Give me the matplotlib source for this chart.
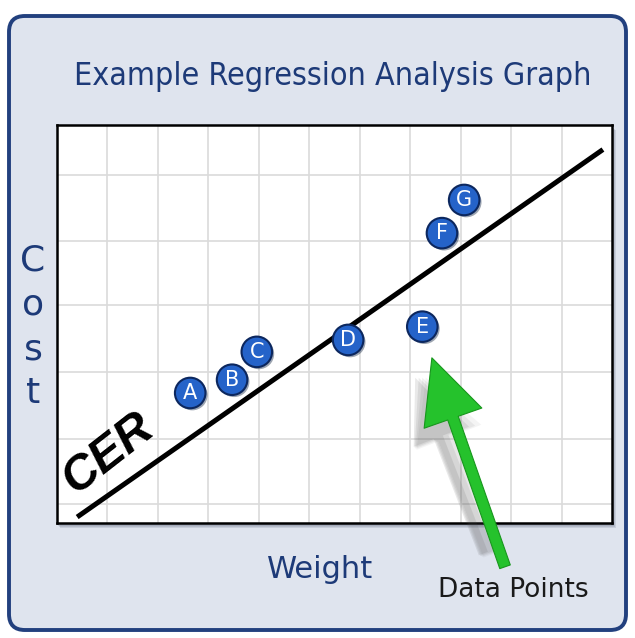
import matplotlib.pyplot as plt
import numpy as np
from matplotlib.patches import FancyBboxPatch, Rectangle
import matplotlib.patheffects as pe


# data points (grid units)
labels = ['A', 'B', 'C', 'D', 'E', 'F', 'G']
weight = [2.64, 3.47, 3.96, 5.77, 7.24, 7.63, 8.07]
cost = [1.96, 2.16, 2.58, 2.76, 2.96, 4.37, 4.87]

# cost estimating relationship line
cer_weight = [0.40, 10.82]
cer_cost = [0.09, 5.63]

grid_x = np.arange(1, 11)
grid_y = [0.28, 1.27, 2.28, 3.29, 4.25, 5.25]

navy = '#1d3a78'

fig = plt.figure(figsize=(6.35, 6.38), dpi=100)
fig.patch.set_facecolor('white')

# outer rounded panel
panel = FancyBboxPatch((9 / 635, 8 / 638), 617 / 635, 614 / 638,
                       boxstyle='round,pad=0,rounding_size=0.025',
                       transform=fig.transFigure, facecolor='#dfe4ee',
                       edgecolor='#22407e', linewidth=2.8, zorder=-5)
fig.patches.append(panel)
# soft shadow under the plot box
for k in range(3):
    fig.patches.append(Rectangle(((58 + k) / 635, (112 - k) / 638), 556 / 635, 398 / 638,
                                 transform=fig.transFigure, facecolor='#606a80',
                                 alpha=0.18, lw=0, zorder=-4))

ax = fig.add_axes([57 / 635, 115 / 638, 555 / 635, 398 / 638], zorder=2)
ax.set_xlim(0, 11)
ax.set_ylim(0, 6)
ax.set_facecolor('white')
ax.set_xticks(grid_x)
ax.set_yticks(grid_y)
ax.tick_params(length=0, labelbottom=False, labelleft=False)
ax.grid(True, color='#dadada', linewidth=1.2)
for s in ax.spines.values():
    s.set_color('black')
    s.set_linewidth(1.8)

ax.plot(cer_weight, cer_cost, color='black', linewidth=3.6,
        solid_capstyle='butt', zorder=3)

ax.scatter(weight, cost, s=22 ** 2, color='#2563c9', edgecolor='#0c275e',
           linewidth=1.5, zorder=4,
           path_effects=[pe.SimplePatchShadow(offset=(1.5, -1.5), alpha=0.4), pe.Normal()])
for lab, x, y in zip(labels, weight, cost):
    ax.text(x, y, lab, color='white', fontsize=15, ha='center', va='center',
            zorder=5)

ax.text(1.02, 1.05, 'CER', fontsize=35, fontweight='bold', style='italic',
        family='Liberation Sans', rotation=38, ha='center', va='center',
        rotation_mode='anchor', zorder=3)

# arrow pointing at point E
ex, ey = weight[4], cost[4]
tip = (ex + 0.19, ey - 0.47)
tail = (ex + 1.64, ey - 3.62)
for k, a in enumerate([0.06, 0.08, 0.10, 0.12]):
    off = 0.12 + 0.07 * k
    ax.annotate('', xy=(tip[0] - off, tip[1] - 0.3), xytext=(tail[0] - off - 0.1, tail[1] + 0.2),
                annotation_clip=False, zorder=6,
                arrowprops=dict(arrowstyle='simple,head_length=46,head_width=%g,tail_width=%g'
                                % (50 - 4 * k, 16 - 3 * k),
                                mutation_scale=1, color='#4a4a4a', alpha=a, lw=0,
                                shrinkA=0, shrinkB=0))
ax.annotate('', xy=tip, xytext=tail, annotation_clip=False, zorder=7,
            arrowprops=dict(arrowstyle='simple,head_length=46,head_width=44,tail_width=8',
                            mutation_scale=1, facecolor='#25c22c', edgecolor='#18961d',
                            lw=0.8, shrinkA=0, shrinkB=0))

fig.text(333 / 635, 1 - 76 / 638, 'Example Regression Analysis Graph', color=navy,
         fontsize=23, fontstretch='condensed', ha='center', va='center')
fig.text(33 / 635, 1 - 327 / 638, '\n'.join('Cost'), color=navy, fontsize=26,
         ha='center', va='center', linespacing=1.38)
fig.text(320 / 635, 1 - 569 / 638, 'Weight', color=navy, fontsize=22,
         ha='center', va='center')
fig.text(513 / 635, 1 - 590 / 638, 'Data Points', color='#1a1a1a', fontsize=19,
         ha='center', va='center')

fig.savefig('out.png', dpi=100)
